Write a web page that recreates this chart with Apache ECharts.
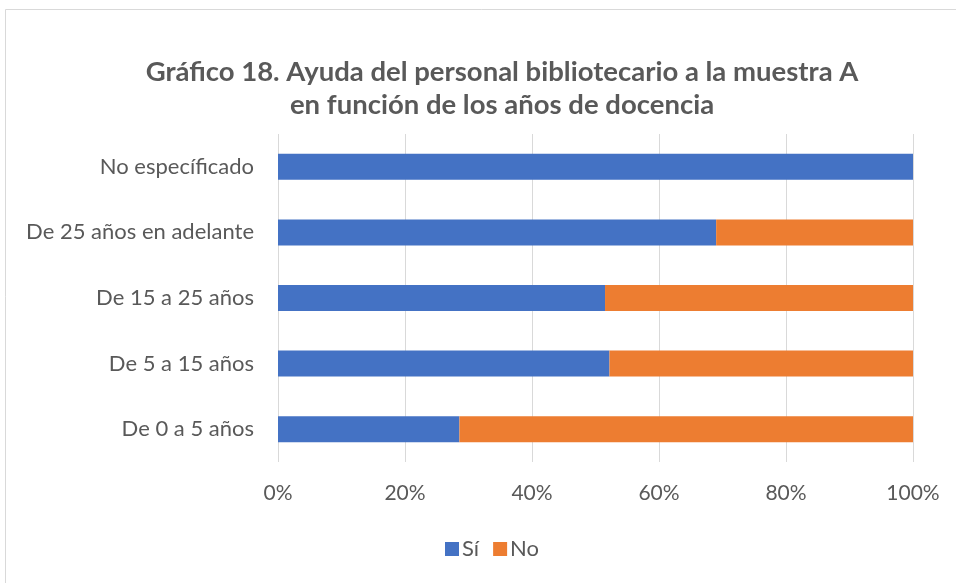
<!DOCTYPE html>
<html>
<head>
<meta charset="utf-8">
<script src="https://cdn.jsdelivr.net/npm/echarts@6/dist/echarts.min.js"></script>
<style>
  html, body { margin: 0; padding: 0; background: #fff; }
  #main { width: 956px; height: 583px; }
</style>
</head>
<body>
<div id="main"></div>
<script>
let categories = ['De 0 a 5 años', 'De 5 a 15 años', 'De 15 a 25 años', 'De 25 años en adelante', 'No específicado']
let siValues = [28.57, 52.2, 51.5, 69.0, 100]
let noValues = [71.43, 47.8, 48.5, 31.0, 0]
let seriesNames = ['Sí', 'No']
let xTicks = [0, 20, 40, 60, 80, 100]

let chart = echarts.init(document.getElementById('main'))
let font = 'Lato'
let option = {
  backgroundColor: '#fff',
  textStyle: { fontFamily: font },
  title: {
    text: 'Gráfico 18. Ayuda del personal bibliotecario a la muestra A\nen función de los años de docencia',
    left: 497,
    top: 51,
    textAlign: 'center',
    textStyle: {
      fontFamily: font,
      fontSize: 27.5,
      fontWeight: 'bold',
      color: '#595959',
      lineHeight: 33
    }
  },
  graphic: [{
    type: 'rect',
    shape: { x: 5.5, y: 9.5, width: 1000, height: 1000 },
    style: { fill: 'none', stroke: '#d9d9d9', lineWidth: 1 },
    silent: true
  }],
  legend: {
    data: seriesNames,
    left: 440,
    top: 533,
    itemWidth: 14,
    itemHeight: 14,
    itemGap: 14,
    icon: 'rect',
    textStyle: { fontFamily: font, fontSize: 22, color: '#595959', padding: [0, 0, 0, -2] }
  },
  grid: {
    left: 278,
    right: 43,
    top: 134,
    bottom: 121,
    containLabel: false
  },
  xAxis: {
    type: 'value',
    min: 0,
    max: 100,
    interval: 20,
    axisLine: { show: false },
    axisTick: { show: false },
    splitLine: { lineStyle: { color: '#d9d9d9', width: 1 } },
    axisLabel: {
      formatter: function (v) { return xTicks.indexOf(v) >= 0 ? v + '%' : '' },
      fontFamily: font,
      fontSize: 21,
      color: '#595959',
      margin: 21
    }
  },
  yAxis: {
    type: 'category',
    data: categories,
    axisLine: { show: false },
    axisTick: { show: false },
    axisLabel: {
      fontFamily: font,
      fontSize: 22,
      color: '#595959',
      margin: 24
    }
  },
  series: [{
    name: seriesNames[0],
    type: 'bar',
    stack: 'total',
    data: siValues,
    barWidth: 26,
    itemStyle: { color: '#4472C4' }
  }, {
    name: seriesNames[1],
    type: 'bar',
    stack: 'total',
    data: noValues,
    barWidth: 26,
    itemStyle: { color: '#ED7D31' }
  }]
}
chart.setOption(option)
</script>
</body>
</html>
